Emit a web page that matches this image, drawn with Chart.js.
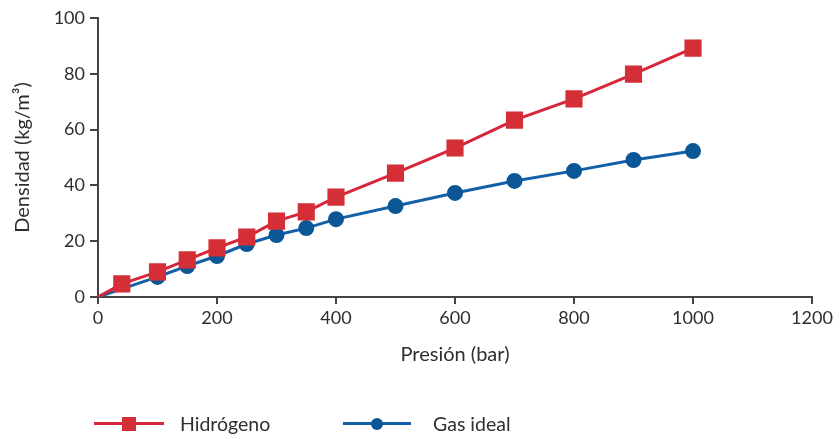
<!DOCTYPE html>
<html>
<head>
<meta charset="utf-8">
<script src="https://cdn.jsdelivr.net/npm/chart.js@4.4.1/dist/chart.umd.min.js"></script>
<style>
  body { margin: 0; background: #fff; }
  #wrap { position: relative; width: 840px; height: 439px; }
  .item { position: absolute; top: 413px; height: 22px; font-family: Lato, sans-serif; font-size: 19.5px; color: #2e2e2e; }
  .line { position: absolute; top: 9px; height: 3px; }
  .mark { position: absolute; }
  .label { position: absolute; top: 0; line-height: 22px; white-space: nowrap; }
</style>
</head>
<body>
<div id="wrap">
  <canvas id="chart" width="840" height="439"></canvas>
  <div id="legend"></div>
</div>
<script>
// Presión (bar) vs densidad (kg/m³)
const presionH2 = [0, 40, 100, 150, 200, 250, 300, 350, 400, 500, 600, 700, 800, 900, 1000];
const densidadH2 = [0, 4.7, 9, 13.3, 17.6, 21.5, 27.2, 30.5, 35.8, 44.4, 53.4, 63.4, 71, 79.9, 89.2];
const presionIdeal = [0, 100, 150, 200, 250, 300, 350, 400, 500, 600, 700, 800, 900, 1000];
const densidadIdeal = [0, 7.2, 11.1, 14.7, 19, 22.2, 24.7, 27.9, 32.6, 37.3, 41.6, 45.2, 49.1, 52.3];
const xTicks = [0, 200, 400, 600, 800, 1000, 1200];
const yTicks = [0, 20, 40, 60, 80, 100];
const seriesNames = ['Hidrógeno', 'Gas ideal'];

const red = '#d7263a';
const redMark = '#d42f36';
const blue = '#1360a8';
const blueMark = '#0b5796';
const axisColor = '#444';
const textColor = '#2e2e2e';
const tickFont = { family: 'Lato, sans-serif', size: 18 };
const titleFont = { family: 'Lato, sans-serif', size: 20 };

function toPoints(xs, ys) {
    return xs.map((x, i) => ({ x: x, y: ys[i] }));
}

const ctx = document.getElementById('chart').getContext('2d');
const chart = new Chart(ctx, {
    type: 'line',
    data: {
        datasets: [{
            label: seriesNames[0],
            data: toPoints(presionH2, densidadH2),
            borderColor: red,
            borderWidth: 3,
            backgroundColor: redMark,
            pointBackgroundColor: redMark,
            pointBorderColor: redMark,
            pointStyle: 'rect',
            pointRadius: c => c.dataIndex === 0 ? 0 : 10,
            tension: 0
        }, {
            label: seriesNames[1],
            data: toPoints(presionIdeal, densidadIdeal),
            borderColor: blue,
            borderWidth: 3,
            backgroundColor: blueMark,
            pointBackgroundColor: blueMark,
            pointBorderColor: blueMark,
            pointStyle: 'circle',
            pointRadius: c => c.dataIndex === 0 ? 0 : 6.5,
            tension: 0
        }]
    },
    options: {
        responsive: false,
        animation: false,
        layout: { padding: { top: 18, right: 28, bottom: 60, left: 0 } },
        plugins: { legend: { display: false }, tooltip: { enabled: false } },
        scales: {
            x: {
                type: 'linear',
                min: 0,
                max: 1200,
                afterBuildTicks: s => { s.ticks = xTicks.map(v => ({ value: v })); },
                afterFit: s => { s.height = 82; },
                grid: { drawOnChartArea: false, drawTicks: true, tickLength: 7, color: axisColor, lineWidth: 2 },
                border: { display: true, color: axisColor, width: 2 },
                ticks: { color: textColor, font: tickFont, padding: 3, maxRotation: 0, callback: v => String(v) },
                title: { display: true, text: 'Presión (bar)', color: textColor, font: titleFont, padding: { top: 0, bottom: 12 } }
            },
            y: {
                min: 0,
                max: 100,
                afterBuildTicks: s => { s.ticks = yTicks.map(v => ({ value: v })); },
                afterFit: s => { s.width = 98; },
                grid: { drawOnChartArea: false, drawTicks: true, tickLength: 8, color: axisColor, lineWidth: 2 },
                border: { display: true, color: axisColor, width: 2 },
                ticks: { color: textColor, font: tickFont, padding: 5, callback: v => String(v) },
                title: { display: true, text: 'Densidad (kg/m³)', color: textColor, font: titleFont, padding: { top: 11, bottom: 0 } }
            }
        }
    }
});

// HTML legend: line with marker, then label
const legendLayout = [
    { left: 94, lineW: 70, textX: 86 },
    { left: 343, lineW: 68, textX: 90 }
];
const legend = document.getElementById('legend');
chart.data.datasets.forEach((ds, i) => {
    const L = legendLayout[i];
    const item = document.createElement('div');
    item.className = 'item';
    item.style.left = L.left + 'px';
    const line = document.createElement('div');
    line.className = 'line';
    line.style.left = '0px';
    line.style.width = L.lineW + 'px';
    line.style.background = ds.borderColor;
    item.appendChild(line);
    const mark = document.createElement('div');
    mark.className = 'mark';
    const size = ds.pointStyle === 'rect' ? 14 : 12;
    mark.style.width = size + 'px';
    mark.style.height = size + 'px';
    mark.style.left = (L.lineW / 2 - size / 2) + 'px';
    mark.style.top = (10.5 - size / 2) + 'px';
    mark.style.background = ds.pointBackgroundColor;
    if (ds.pointStyle === 'circle') mark.style.borderRadius = '50%';
    item.appendChild(mark);
    const label = document.createElement('div');
    label.className = 'label';
    label.style.left = L.textX + 'px';
    label.textContent = ds.label;
    item.appendChild(label);
    legend.appendChild(item);
});
</script>
</body>
</html>
